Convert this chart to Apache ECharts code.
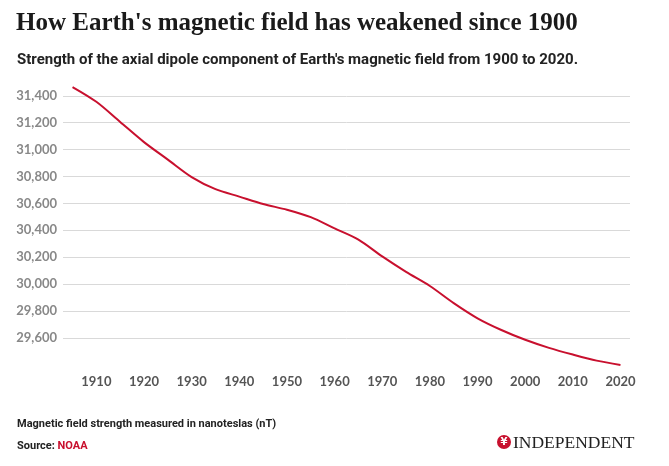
<!DOCTYPE html>
<html>
<head>
<meta charset="utf-8">
<script src="https://cdn.jsdelivr.net/npm/echarts@6/dist/echarts.min.js"></script>
<style>
  html, body { margin: 0; padding: 0; background: #fff; }
  #chart { width: 669px; height: 466px; }
</style>
</head>
<body>
<div id="chart"></div>
<script>
var years = [1905, 1910, 1915, 1920, 1925, 1930, 1935, 1940, 1945, 1950, 1955, 1960,
  1965, 1970, 1975, 1980, 1985, 1990, 1995, 2000, 2005, 2010, 2015, 2020];
var strength = [31465, 31355, 31205, 31055, 30925, 30795, 30705, 30650, 30595, 30552, 30497, 30413,
  30330, 30205, 30090, 29985, 29858, 29745, 29658, 29585, 29525, 29475, 29430, 29398];
var xTicks = [1910, 1920, 1930, 1940, 1950, 1960, 1970, 1980, 1990, 2000, 2010, 2020];
var yTicks = [29600, 29800, 30000, 30200, 30400, 30600, 30800, 31000, 31200, 31400];

var chart = echarts.init(document.getElementById('chart'));

var red = '#c8102e';

var option = {
  backgroundColor: '#fff',
  animation: false,
  title: [
    {
      text: "How Earth's magnetic field has weakened since 1900",
      left: 11, top: 6,
      textStyle: { fontFamily: 'Liberation Serif', fontWeight: 'bold', fontSize: 25, color: '#1a1a1a' }
    },
    {
      text: "Strength of the axial dipole component of Earth's magnetic field from 1900 to 2020.",
      left: 12, top: 48,
      textStyle: { fontFamily: 'Roboto', fontWeight: 'bold', fontSize: 15, color: '#222' }
    },
    {
      text: 'Magnetic field strength measured in nanoteslas (nT)',
      left: 12, top: 414,
      textStyle: { fontFamily: 'Roboto', fontWeight: 'bold', fontSize: 11, color: '#222' }
    },
    {
      text: 'Source: {s|NOAA}',
      left: 12, top: 436,
      textStyle: {
        fontFamily: 'Roboto', fontWeight: 'bold', fontSize: 11, color: '#222',
        rich: { s: { fontFamily: 'Roboto', fontWeight: 'bold', fontSize: 11, color: red } }
      }
    }
  ],
  graphic: [
    { type: 'circle', shape: { cx: 504, cy: 442, r: 7 }, style: { fill: red } },
    { type: 'text', x: 504, y: 442, style: { text: '¥', fill: '#fff', fontSize: 10, fontWeight: 'bold',
      align: 'center', verticalAlign: 'middle', fontFamily: 'DejaVu Sans' } },
    { type: 'text', x: 513, y: 443, style: { text: 'INDEPENDENT', fill: '#222', fontSize: 17.5,
      fontFamily: 'Liberation Serif', verticalAlign: 'middle' } }
  ],
  grid: { left: 63, right: 39, top: 85, height: 281, containLabel: false },
  xAxis: {
    type: 'value',
    min: 1903, max: 2022,
    axisLine: { show: false },
    axisTick: { show: false },
    splitLine: { show: false },
    axisLabel: {
      customValues: xTicks,
      margin: 9,
      color: '#555', fontSize: 13, fontFamily: 'Lato', fontWeight: 'bold',
      formatter: function (v) { return String(v); }
    }
  },
  yAxis: {
    type: 'value',
    min: 29390, max: 31480,
    axisLine: { show: false },
    axisTick: { show: false, customValues: yTicks },
    splitLine: { show: true, lineStyle: { color: '#d9d9d9', width: 1 } },
    axisLabel: {
      customValues: yTicks,
      margin: 6,
      color: '#888', fontSize: 13, fontFamily: 'Lato', fontWeight: 'bold',
      formatter: function (v) { return v.toLocaleString('en-US'); }
    }
  },
  series: [{
    type: 'line',
    data: years.map(function (y, i) { return [y, strength[i]]; }),
    smooth: 0.3,
    symbol: 'none',
    lineStyle: { color: red, width: 2 }
  }]
};

chart.setOption(option);
</script>
</body>
</html>
